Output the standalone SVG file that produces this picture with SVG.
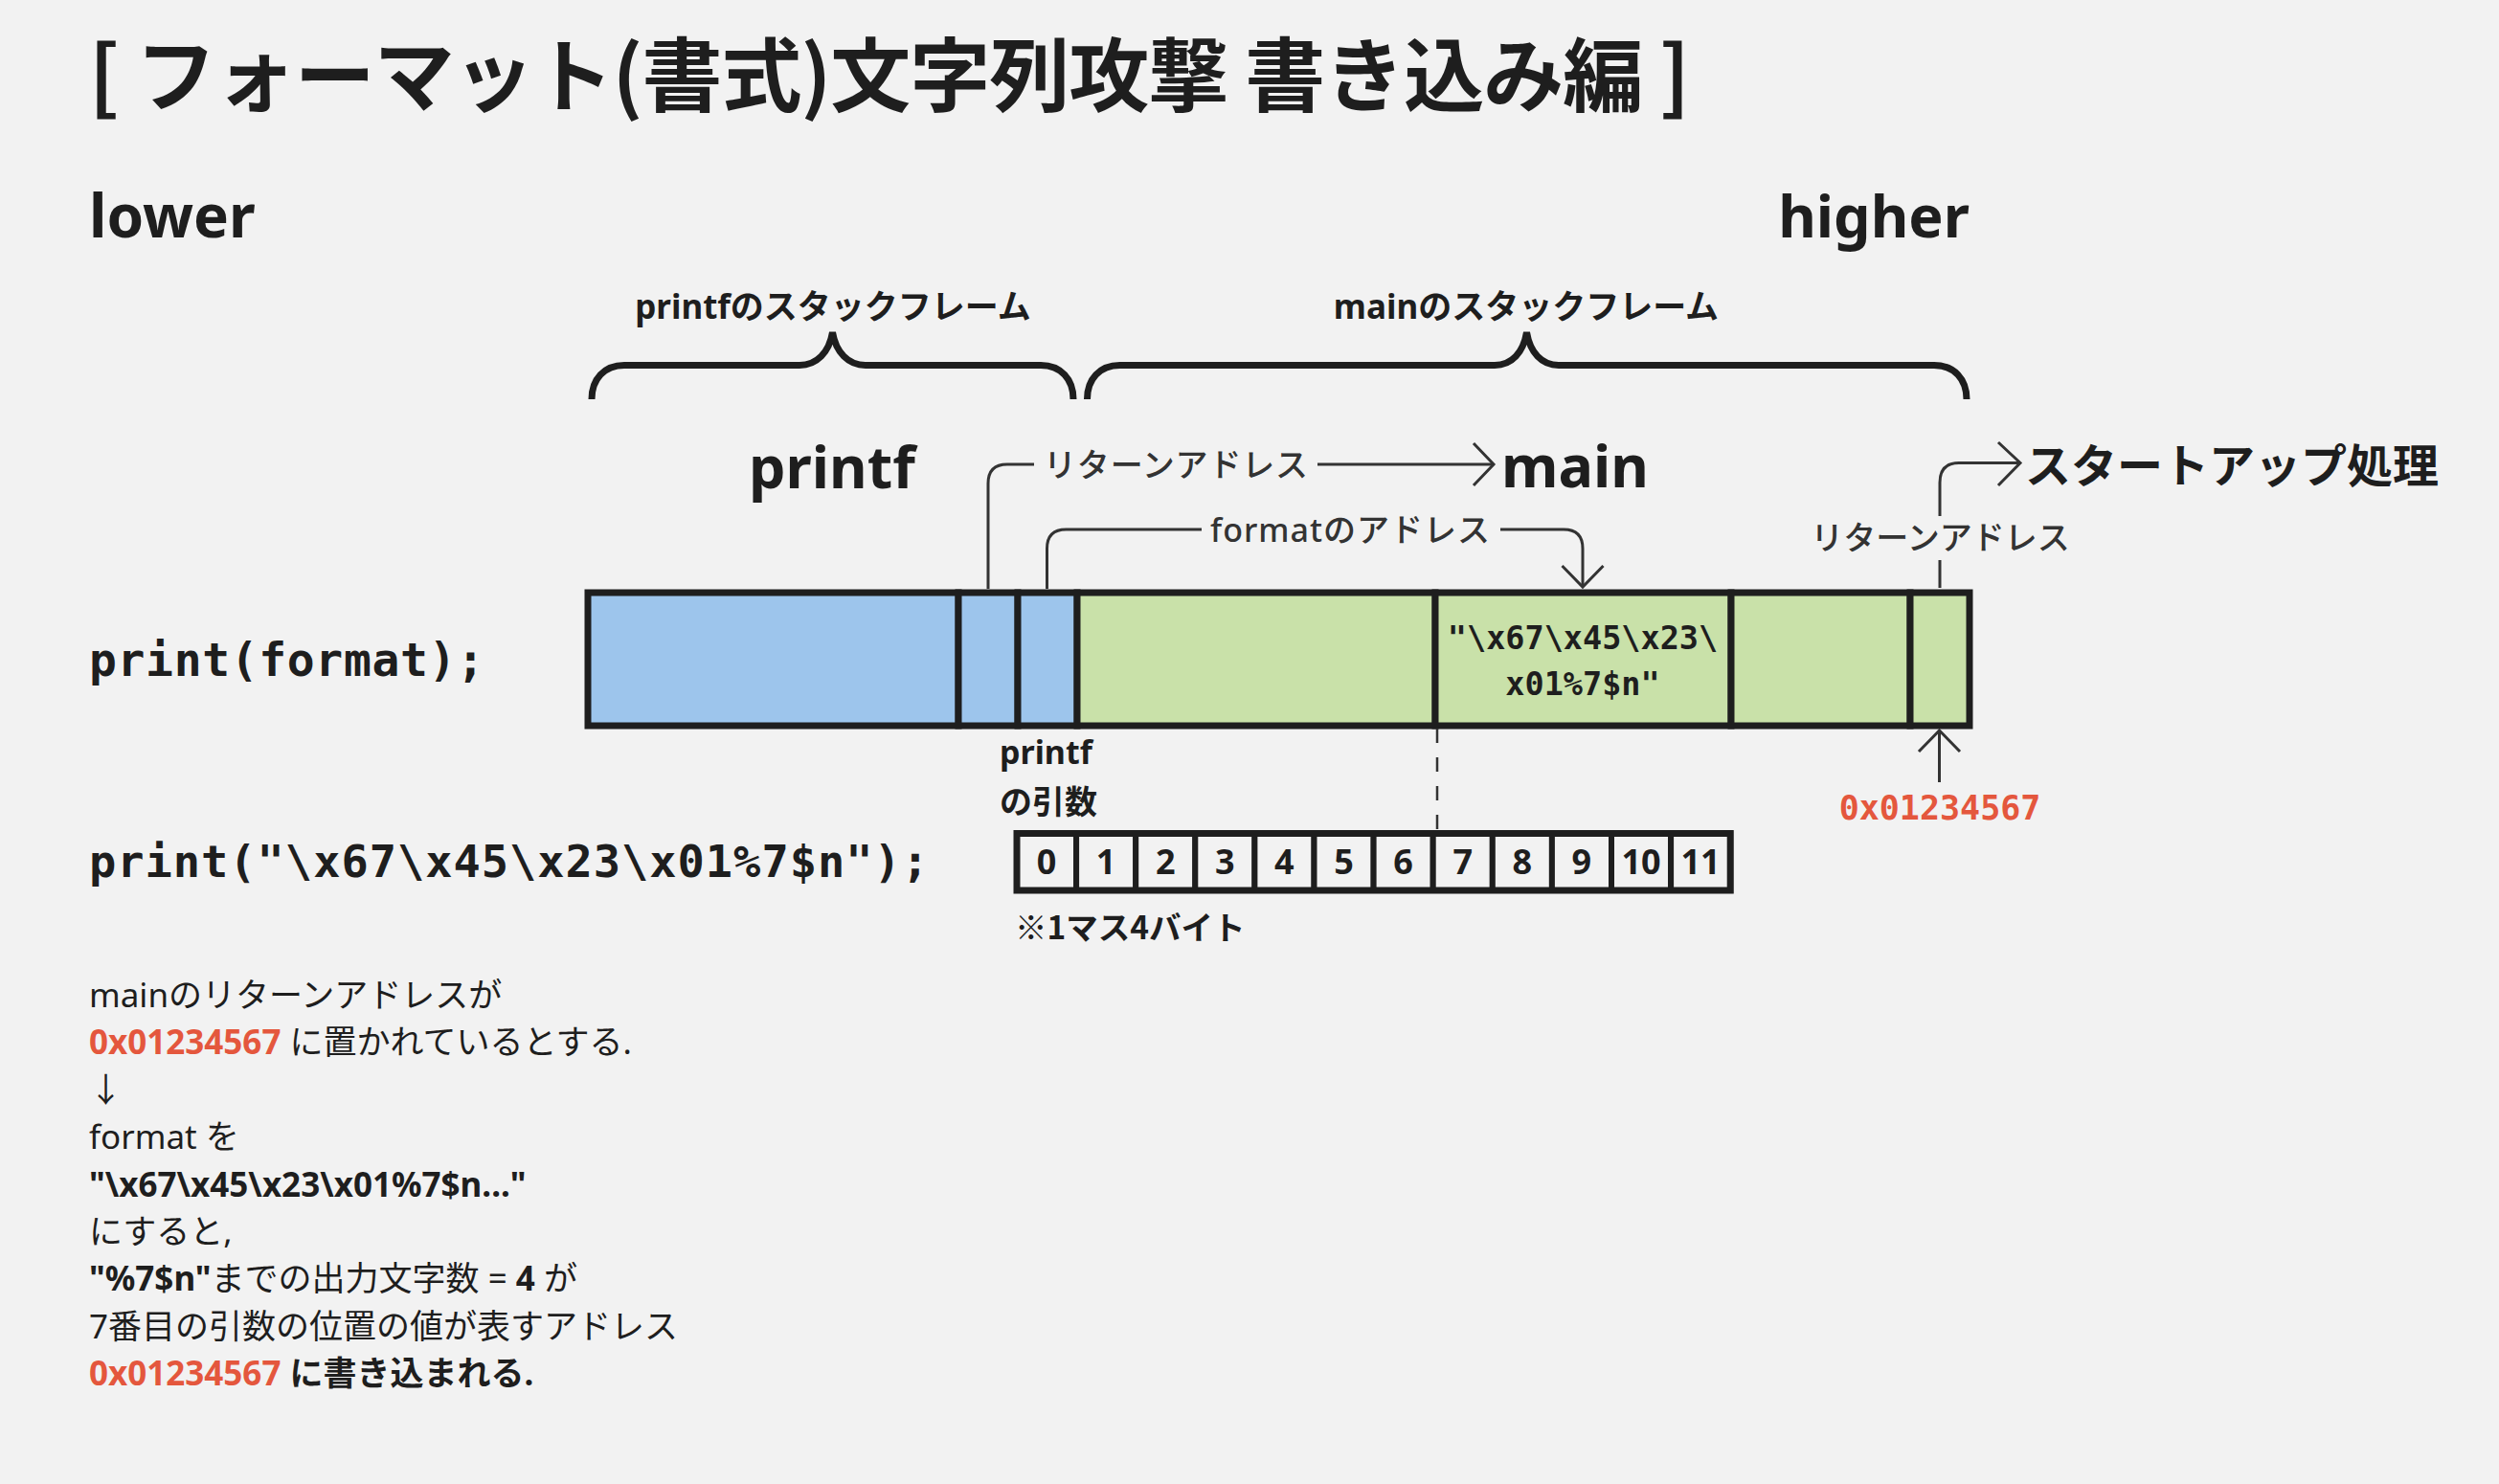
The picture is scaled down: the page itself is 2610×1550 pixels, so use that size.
<svg xmlns="http://www.w3.org/2000/svg" width="2610" height="1550" viewBox="0 0 2610 1550">
<style>
  text { font-family: "Noto Sans", "Noto Sans CJK JP", sans-serif; fill: #1e1e1e; }
  .jp { font-family: "Noto Sans CJK JP", "Noto Sans", sans-serif; }
  .b { font-weight: bold; }
  .mono { font-family: "DejaVu Sans Mono", "Liberation Mono", monospace; font-weight: bold; }
  .lbl { font-size: 34px; font-weight: 500; fill: #333333; }
  .red { fill: #e4573d; }
  .note { font-size: 35px; }
  .blue { fill: #9dc5ec; stroke: #1e1e1e; stroke-width: 7; }
  .green { fill: #c9e1a9; stroke: #1e1e1e; stroke-width: 7; }
  .cell { fill: #f2f2f2; stroke: #1e1e1e; stroke-width: 6; }
  .brace { fill: none; stroke: #1e1e1e; stroke-width: 7; }
  .conn { fill: none; stroke: #333333; stroke-width: 3; }
  .num { font-size: 36px; font-weight: bold; text-anchor: middle; }
</style>
<rect x="0" y="0" width="2610" height="1550" fill="#f2f2f2"/>

<g id="title">
  <text class="jp b" x="93" y="110" font-size="84" textLength="1672" lengthAdjust="spacing">[ フォーマット(書式)文字列攻撃 書き込み編 ]</text>
</g>

<g id="axis-labels">
  <text class="b" x="93" y="248" font-size="62">lower</text>
  <text class="b" x="2057" y="248" font-size="61" text-anchor="end">higher</text>
</g>

<g id="frames">
  <text class="b" x="870" y="333" font-size="35" text-anchor="middle">printfのスタックフレーム</text>
  <text class="b" x="1594" y="333" font-size="35" text-anchor="middle">mainのスタックフレーム</text>
  <path class="brace" d="M618,417 C618,396 631,381.5 652,381.5 L835,381.5 C853,381.5 866,368 869.5,347 C873,368 886,381.5 904,381.5 L1087,381.5 C1108,381.5 1121,396 1121,417"/>
  <path class="brace" d="M1135.5,417 C1135.5,396 1148.5,381.5 1169.5,381.5 L1561,381.5 C1579,381.5 1591,368 1594.5,347 C1598,368 1610,381.5 1628,381.5 L2020,381.5 C2041,381.5 2054,396 2054,417"/>
</g>

<g id="func-labels">
  <text class="b" x="782" y="510" font-size="61">printf</text>
  <text class="b" x="1568" y="509" font-size="61">main</text>
  <text class="jp b" x="2115" y="504" font-size="48">スタートアップ処理</text>
</g>

<g id="code">
  <text class="mono" x="93" y="706" font-size="48" textLength="413" lengthAdjust="spacing">print(format);</text>
  <text class="mono" x="93" y="916" font-size="47" textLength="877" lengthAdjust="spacing">print("\x67\x45\x23\x01%7$n");</text>
</g>

<g id="stack">
  <rect class="blue" x="614" y="619" width="387" height="139"/>
  <rect class="blue" x="1001" y="619" width="62" height="139"/>
  <rect class="blue" x="1063" y="619" width="62" height="139"/>
  <rect class="green" x="1125" y="619" width="374" height="139"/>
  <rect class="green" x="1499" y="619" width="309" height="139"/>
  <rect class="green" x="1808" y="619" width="187" height="139"/>
  <rect class="green" x="1995" y="619" width="62" height="139"/>
  <text class="mono" x="1653" y="678" font-size="33.5" text-anchor="middle">"\x67\x45\x23\</text>
  <text class="mono" x="1653" y="726" font-size="33.5" text-anchor="middle">x01%7$n"</text>
</g>

<g id="args-label">
  <text class="b" x="1044" y="798" font-size="34">printf</text>
  <text class="jp b" x="1044" y="850" font-size="34">の引数</text>
</g>

<g id="arg-cells">
  <rect class="cell" x="1062" y="870.5" width="62.1" height="59.5"/>
  <rect class="cell" x="1124.1" y="870.5" width="62.1" height="59.5"/>
  <rect class="cell" x="1186.2" y="870.5" width="62.1" height="59.5"/>
  <rect class="cell" x="1248.3" y="870.5" width="62.1" height="59.5"/>
  <rect class="cell" x="1310.4" y="870.5" width="62.1" height="59.5"/>
  <rect class="cell" x="1372.5" y="870.5" width="62.1" height="59.5"/>
  <rect class="cell" x="1434.6" y="870.5" width="62.1" height="59.5"/>
  <rect class="cell" x="1496.7" y="870.5" width="62.1" height="59.5"/>
  <rect class="cell" x="1558.8" y="870.5" width="62.1" height="59.5"/>
  <rect class="cell" x="1620.9" y="870.5" width="62.1" height="59.5"/>
  <rect class="cell" x="1683" y="870.5" width="62.1" height="59.5"/>
  <rect class="cell" x="1745.1" y="870.5" width="62.1" height="59.5"/>
  <rect x="1062" y="870.5" width="745.2" height="59.5" fill="none" stroke="#1e1e1e" stroke-width="7"/>
  <text class="num" x="1093" y="913">0</text>
  <text class="num" x="1155.1" y="913">1</text>
  <text class="num" x="1217.2" y="913">2</text>
  <text class="num" x="1279.3" y="913">3</text>
  <text class="num" x="1341.4" y="913">4</text>
  <text class="num" x="1403.5" y="913">5</text>
  <text class="num" x="1465.6" y="913">6</text>
  <text class="num" x="1527.7" y="913">7</text>
  <text class="num" x="1589.8" y="913">8</text>
  <text class="num" x="1651.9" y="913">9</text>
  <text class="num" x="1714" y="913">10</text>
  <text class="num" x="1776.1" y="913">11</text>
  <text class="jp b" x="1060" y="981" font-size="33.5">※1マス4バイト</text>
</g>

<g id="addr-label">
  <text class="mono red" x="2026" y="856" font-size="35" text-anchor="middle">0x01234567</text>
</g>

<g id="connectors">
  <path class="conn" d="M1032,615 L1032,505 Q1032,485 1052,485 L1080,485"/>
  <path class="conn" d="M1376,485 L1558,485"/>
  <polyline class="conn" points="1539,463 1560,485 1539,507"/>
  <text class="lbl jp" x="1090" y="498" textLength="276" lengthAdjust="spacing">リターンアドレス</text>

  <path class="conn" d="M1093.5,615 L1093.5,573 Q1093.5,553 1113.5,553 L1255,553"/>
  <path class="conn" d="M1567,553 L1633,553 Q1653,553 1653,573 L1653,612"/>
  <polyline class="conn" points="1631.5,591 1653,613 1674.5,591"/>
  <text class="lbl" x="1264" y="566" textLength="292" lengthAdjust="spacing">formatのアドレス</text>

  <path class="conn" d="M2026,614 L2026,585"/>
  <path class="conn" d="M2026,539 L2026,504 Q2026,483.5 2046,483.5 L2109,483.5"/>
  <polyline class="conn" points="2087,462 2110,483.5 2087,507"/>
  <text class="lbl jp" x="2026.5" y="574" text-anchor="middle">リターンアドレス</text>

  <path class="conn" d="M2025.5,817 L2025.5,763"/>
  <polyline class="conn" points="2004,785 2025.5,763 2047,785"/>

  <path d="M1501,761 L1501,866" fill="none" stroke="#333333" stroke-width="2.5" stroke-dasharray="15 15"/>
</g>

<g id="notes" class="note">
  <text x="93" y="1052">mainのリターンアドレスが</text>
  <text x="93" y="1101"><tspan class="b red">0x01234567</tspan> に置かれているとする.</text>
  <text x="93" y="1151">↓</text>
  <text x="93" y="1200">format を</text>
  <text class="b" x="93" y="1250">"\x67\x45\x23\x01%7$n..."</text>
  <text x="93" y="1299">にすると,</text>
  <text x="93" y="1348"><tspan class="b">"%7$n"</tspan>までの出力文字数 = <tspan class="b">4</tspan> が</text>
  <text x="93" y="1398">7番目の引数の位置の値が表すアドレス</text>
  <text class="b" x="93" y="1447"><tspan class="red">0x01234567</tspan> に書き込まれる.</text>
</g>
</svg>
